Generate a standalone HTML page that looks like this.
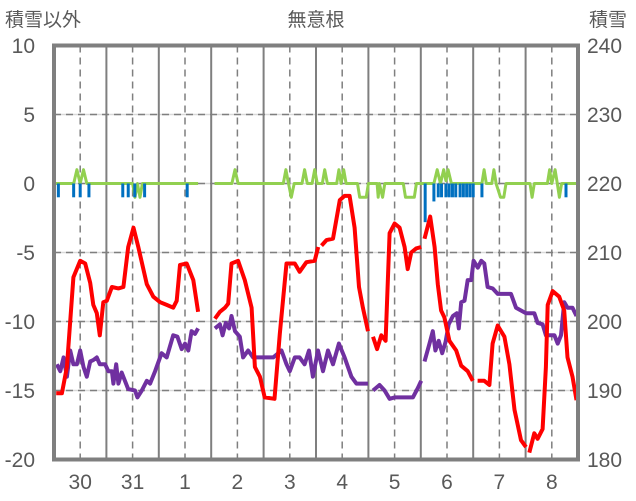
<!DOCTYPE html>
<html><head><meta charset="utf-8">
<style>
html,body{margin:0;padding:0;background:#fff;}
svg{display:block;font-family:"Liberation Sans","Noto Sans CJK JP",sans-serif;}
</style></head>
<body>
<svg id="chart" width="636" height="501" viewBox="0 0 636 501" xmlns="http://www.w3.org/2000/svg">
<text x="5" y="26" font-size="19" fill="#595959">積雪以外</text>
<text x="316" y="26" font-size="19" fill="#595959" text-anchor="middle">無意根</text>
<text x="589" y="26" font-size="19" fill="#595959">積雪</text>
<g id="grid"></g>
<g id="series"></g>
<g id="axes"></g>
</svg>
<script>
const leftTicks = [10, 5, 0, -5, -10, -15, -20];
const rightTicks = [240, 230, 220, 210, 200, 190, 180];
const dayLabels = ["30", "31", "1", "2", "3", "4", "5", "6", "7", "8"];
const redSeries = [[1,-15.2],[3.6,-15.2],[5.9,-13.3],[8.9,-6.8],[12,-5.6],[14.3,-5.8],[16.6,-7.2],[18,-8.8],[19.6,-9.4],[21,-11],[22.6,-8.6],[24.2,-8.5],[26.5,-7.5],[29.5,-7.6],[31.8,-7.5],[34,-4.6],[36.4,-3.2],[38.6,-4.6],[42.5,-7.3],[45.5,-8.2],[48.6,-8.6],[51.6,-8.8],[54.6,-9.0],[56.2,-8.5],[57.7,-5.9],[60.8,-5.8],[63.8,-7.0],[66,-9.3],null,
[73.7,-9.8],[76,-9.3],[78.3,-9.0],[79.8,-8.7],[81.3,-5.8],[84.3,-5.6],[87.4,-7.0],[90.5,-9.0],[92,-13.3],[94.3,-14.0],[96.5,-15.5],[101,-15.6],[103.4,-10.9],[106.5,-5.8],[110.3,-5.8],[112.5,-6.4],[115.6,-5.7],[119.4,-5.6],[121,-4.6],null,
[122.5,-4.5],[124.8,-4.1],[127.8,-4.0],[130.9,-1.2],[133.1,-0.9],[135.4,-0.9],[137.7,-3.2],[139.7,-7.5],[141.5,-9.0],[143.8,-10.7],null,
[146.1,-11.1],[148,-12.0],[149.9,-11.0],[151.9,-11.4],[153.7,-3.6],[156,-2.9],[158.3,-3.2],[160.6,-4.6],[162,-6.2],[163.6,-5.0],[165.9,-4.7],[168.2,-4.6],null,
[169.7,-4.0],[172.3,-2.4],[174.3,-4.6],[175.8,-7.3],[177.3,-9.2],[178.8,-9.7],[181.1,-11.4],[184.2,-12.1],[186.5,-13.2],[189.5,-13.6],[191.8,-14.3],null,
[194,-14.3],[197.1,-14.3],[199.4,-14.6],[200.9,-11.6],[203.2,-10.3],[206.3,-11.1],[208.6,-13.1],[210.9,-16.4],[213.9,-18.6],[216.2,-19.1],null,
[217.7,-19.5],[220,-18.1],[221.5,-18.5],[223.8,-17.8],[225.3,-13.3],[226.1,-8.8],[228.4,-7.8],[231.4,-8.2],[233.7,-9.2],[235.2,-12.6],[237.5,-14.0],[239.3,-15.7]];
const purpleSeries = [[1.3,-13.1],[2.9,-13.6],[4.4,-12.6],[5.9,-14.0],[7.4,-12.1],[8.9,-13.1],[10.5,-13.1],[12,-12.1],[13.5,-13.3],[15,-14.0],[16.6,-12.9],[18,-12.8],[19.6,-12.6],[21,-13.1],[23.4,-13.1],[24.9,-13.6],[26.5,-13.6],[27.2,-14.5],[28.5,-13.1],[29.5,-14.5],[31,-13.7],[34,-14.9],[37.1,-15.0],[38.2,-15.5],[40.2,-15.0],[42.5,-14.3],[44,-14.5],[46.3,-13.6],[49.3,-12.3],[51.6,-12.6],[54.6,-11.0],[56.5,-11.1],[58.5,-12.0],[60,-11.6],[61.5,-12.1],[63,-10.7],[64.6,-10.9],[66,-10.5],null,
[73.7,-10.5],[76,-10.2],[77.2,-11.0],[78.7,-10.1],[80.2,-10.5],[81.3,-9.6],[82.9,-10.7],[85.1,-11.1],[86.6,-12.6],[88.9,-12.1],[91.2,-12.6],[100.4,-12.6],[104.2,-12.1],[106.5,-13.1],[108,-13.6],[110.3,-12.6],[112.5,-12.6],[114.8,-13.1],[116.8,-12.1],[118.6,-14.0],[120.9,-12.1],[123.2,-13.6],[125.5,-12.1],[127.8,-13.1],[130.5,-11.6],[133.1,-12.6],[136.2,-14.0],[138.5,-14.5],[143.8,-14.5],null,
[146.1,-15.0],[149.1,-14.6],[151.4,-15.0],[153.7,-15.6],[156,-15.5],[164.4,-15.5],[166.7,-14.8],[168.2,-14.3],null,
[169.7,-12.9],[172,-11.6],[173.5,-10.7],[174.7,-12.1],[176.2,-11.4],[177.8,-12.3],[179.3,-11.5],[180.8,-10.2],[182.7,-9.6],[184.5,-9.4],[185.4,-10.5],[186.5,-8.6],[188,-8.5],[189.5,-7.0],[191.1,-7.0],[192.2,-5.6],[194.1,-6.1],[195.7,-5.6],[197.1,-5.8],[198.6,-7.5],[200.9,-7.6],[203.2,-8.0],[209.3,-8.0],[211.6,-9.0],[216.2,-9.4],[220,-9.4],[221.5,-10.1],[223.8,-10.2],[225.3,-11.0],[229.2,-11.0],[230.7,-11.6],[232.2,-11.0],[233.7,-8.6],[235.2,-9.0],[237.5,-9.0],[239.3,-9.6]];
const greenSeries = [[0,0],[9,0],[10.5,1],[12,0],[13.5,1],[15,0],[36,0],[37.1,-1],[38.2,0],[39.4,-1],[40.5,0],[66,0],null,
[73.5,0],[81.5,0],[82.9,1],[84.3,0],[105,0],[106.2,1],[107.4,0],[108.7,-1],[110,0],[113.6,0],[114.8,1],[116,0],[118.2,0],[119.4,1],[120.6,0],[122.9,0],[124,1],[125.2,0],[129.5,0],[130.5,1],[131.5,0],[132.7,1],[133.8,0],[139,0],[140,-1],[143,-1],[144,0],[148,0],[148.5,-1],[149,0],[150.5,-1],[151.5,0],[160,0],[161,-1],[165,-1],[166,0],[174,0],[175.5,1],[177,0],[178.5,1],[179.5,0.2],[180.5,1],[182,0],[196,0],[197,1],[198,0],[200.5,0],[201.5,1],[202.5,0],[204.5,-1],[206,-1],[207,0],[218,0],[219,-1],[220,0],[226,0],[227,1],[228,0],[229.5,1],[230.5,0],[231.5,-1],[232.5,0],[240,0]];
const blueHours = [2,9,12,16,31.5,34,37,41.5,61,170,174,176,177.5,179.5,181,182.5,184,186,187.5,189,190.5,192,196,234.5];
const blueValues = [-1,-1,-1,-1,-1,-1,-1,-1,-1,-2.8,-1.3,-1,-1,-1,-1,-1,-1,-1,-1,-1,-1,-1,-1,-1];

const X0 = 54, X1 = 578, Y0 = 45.5, Y1 = 459.5;
const x = h => X0 + h / 240 * (X1 - X0);
const y = v => Y0 + (10 - v) / 30 * (Y1 - Y0);
const NS = "http://www.w3.org/2000/svg";
function mk(tag, attrs, parent) {
  const e = document.createElementNS(NS, tag);
  for (const k in attrs) e.setAttribute(k, attrs[k]);
  parent.appendChild(e);
  return e;
}
const grid = document.getElementById("grid");
const series = document.getElementById("series");
const axes = document.getElementById("axes");

leftTicks.forEach((t, i) => {
  if (t === 10 || t === -20) return;
  const l1 = mk("line", {x1: X0, x2: X1, y1: y(t), y2: y(t), stroke: "#d9d9d9", "stroke-width": 1.5}, grid);
  
  
  const l2 = mk("line", {x1: X0, x2: X1, y1: y(t), y2: y(t), stroke: "#7f7f7f", "stroke-width": 1.5, "stroke-dasharray": "7,5"}, grid);
  
  
});
dayLabels.forEach((d, i) => {
  const c = x(i * 24 + 12);
  const dl = mk("line", {x1: c, x2: c, y1: Y0, y2: Y1, stroke: "#7f7f7f", "stroke-width": 1.5, "stroke-dasharray": "7,5"}, grid);
  
  
  if (i > 0) {
    const b = x(i * 24);
    const bl = mk("line", {x1: b, x2: b, y1: Y0, y2: Y1, stroke: "#7f7f7f", "stroke-width": 2}, grid);
    
    
  }
  const lt = mk("text", {x: c, y: 489, "font-size": 21, fill: "#595959", "text-anchor": "middle"}, axes);
  lt.textContent = d;
  
  
});
leftTicks.forEach((t, i) => {
  const tx = mk("text", {x: 35, y: y(t) + 7.5, "font-size": 21, fill: "#595959", "text-anchor": "end"}, axes);
  tx.textContent = String(t);
  
  
  const rx = mk("text", {x: 587, y: y(t) + 7.5, "font-size": 21, fill: "#595959"}, axes);
  rx.textContent = String(rightTicks[i]);
  
  
});

function path(data) {
  let d = "", pen = false;
  data.forEach(p => {
    if (!p) { pen = false; return; }
    d += (pen ? "L" : "M") + x(p[0]).toFixed(1) + "," + y(p[1]).toFixed(1);
    pen = true;
  });
  return d;
}
const g = mk("path", {d: path(greenSeries), fill: "none", stroke: "#92d050", "stroke-width": 3, "stroke-linejoin": "round"}, series);


blueHours.forEach((h, i) => {
  const v = blueValues[i];
  const r = mk("rect", {x: x(h) - 1.5, y: y(0), width: 3, height: y(v) - y(0), fill: "#0070c0"}, series);
  
  
});
const p = mk("path", {d: path(purpleSeries), fill: "none", stroke: "#7030a0", "stroke-width": 4, "stroke-linejoin": "round"}, series);


const r = mk("path", {d: path(redSeries), fill: "none", stroke: "#ff0000", "stroke-width": 4, "stroke-linejoin": "round"}, series);



const f = mk("rect", {x: X0, y: Y0, width: X1 - X0, height: Y1 - Y0, fill: "none", stroke: "#7f7f7f", "stroke-width": 4}, axes);


</script>
</body></html>
